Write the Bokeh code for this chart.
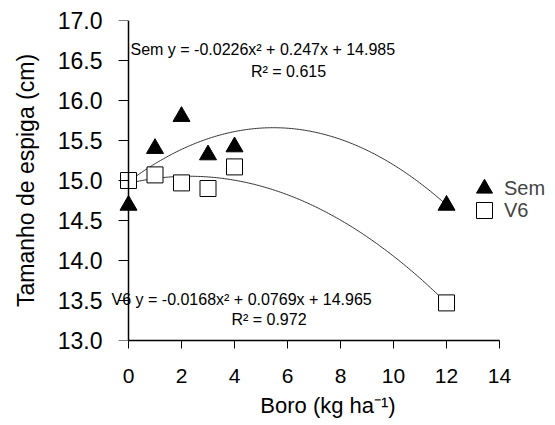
import numpy as np
from bokeh.plotting import figure
from bokeh.models import (Range1d, Label, Legend, LegendItem, FixedTicker,
                          CustomJSTickFormatter, LinearAxis)
from bokeh.embed import file_html
from bokeh.resources import INLINE

boro = [0, 1, 2, 3, 4, 12]
sem = [14.69, 15.40, 15.80, 15.32, 15.42, 14.69]
v6 = [15.00, 15.07, 14.97, 14.90, 15.17, 13.47]
coef_sem = [-0.0226, 0.247, 14.985]
coef_v6 = [-0.0168, 0.0769, 14.965]
eq_sem = "Sem y = -0.0226x² + 0.247x + 14.985"
r2_sem = "R² = 0.615"
eq_v6 = "V6 y = -0.0168x² + 0.0769x + 14.965"
r2_v6 = "R² = 0.972"
x_ticks = [0, 2, 4, 6, 8, 10, 12, 14]
y_ticks = [13.0, 13.5, 14.0, 14.5, 15.0, 15.5, 16.0, 16.5, 17.0]

FONT = "Liberation Sans"

p = figure(width=547, height=424, output_backend="svg", toolbar_location=None,
           x_range=Range1d(-0.755, 15.81), y_range=Range1d(13, 17),
           y_axis_location=None,
           min_border_left=108, min_border_right=0, min_border_top=20, min_border_bottom=84)
p.outline_line_color = None
p.grid.visible = False
p.background_fill_color = "white"

xs = np.linspace(0, 12, 200)
p.line(xs, np.polyval(coef_sem, xs), line_color="#333333", line_width=1)
p.line(xs, np.polyval(coef_v6, xs), line_color="#333333", line_width=1)

r1 = p.scatter(boro, sem, marker="triangle", size=17, fill_color="black", line_color="black")
r2 = p.scatter(boro, v6, marker="square", size=16, fill_color="white", line_color="black", line_width=1)

# x axis
xa = p.xaxis[0]
xa.ticker = FixedTicker(ticks=x_ticks)
xa.bounds = (0, 14)
xa.minor_tick_line_color = None
xa.major_tick_in = 0
xa.major_tick_out = 8
xa.axis_line_color = "black"
xa.axis_line_width = 1.5
xa.major_tick_line_color = "black"
xa.major_label_text_font = FONT
xa.major_label_text_font_size = "21px"
xa.major_label_text_color = "black"
xa.major_label_standoff = 20
xa.axis_label = "Boro (kg ha⁻¹)"
xa.axis_label_text_font = FONT
xa.axis_label_text_font_size = "22px"
xa.axis_label_text_font_style = "normal"
xa.axis_label_text_color = "black"
xa.axis_label_standoff = 7

# y axis: labels (at panel edge) and line/ticks (at x = 0)
ya = LinearAxis(ticker=FixedTicker(ticks=y_ticks),
                formatter=CustomJSTickFormatter(code="return tick.toFixed(1);"),
                axis_line_color=None, major_tick_line_color=None, minor_tick_line_color=None,
                major_tick_in=0, major_tick_out=0, major_label_standoff=6,
                major_label_text_font=FONT, major_label_text_font_size="23px",
                major_label_text_color="black",
                axis_label="Tamanho de espiga (cm)", axis_label_text_font=FONT,
                axis_label_text_font_size="23px", axis_label_text_font_style="normal",
                axis_label_text_color="black", axis_label_standoff=16)
p.add_layout(ya, "left")
yl = LinearAxis(ticker=FixedTicker(ticks=y_ticks), fixed_location=0, bounds=(13, 17),
                major_label_overrides={t: "" for t in y_ticks},
                major_label_text_font_size="1px", major_label_standoff=0,
                axis_line_color="black", axis_line_width=1.5,
                major_tick_line_color="black", minor_tick_line_color=None,
                major_tick_in=0, major_tick_out=10)
p.add_layout(yl, "left")

for txt, x, y, align in [(eq_sem, 0.075, 16.64, "left"), (r2_sem, 6.04, 16.36, "center"),
                         (eq_v6, -0.64, 13.51, "left"), (r2_v6, 5.3, 13.26, "center")]:
    p.add_layout(Label(x=x, y=y, text=txt, text_font=FONT, text_font_size="16px",
                       text_align=align, text_baseline="middle", text_color="black"))

for item, loc in [(LegendItem(label="Sem", renderers=[r1]), (356, 132)),
                  (LegendItem(label="V6", renderers=[r2]), (356, 110))]:
    lg = Legend(items=[item], location=loc, label_text_font=FONT, label_text_font_size="20px",
                background_fill_alpha=0, border_line_color=None, spacing=0, padding=0,
                glyph_width=40, glyph_height=40, label_standoff=0, label_height=40,
                margin=0)
    p.add_layout(lg, "center")

open("out.html", "w").write(file_html(p, INLINE))
